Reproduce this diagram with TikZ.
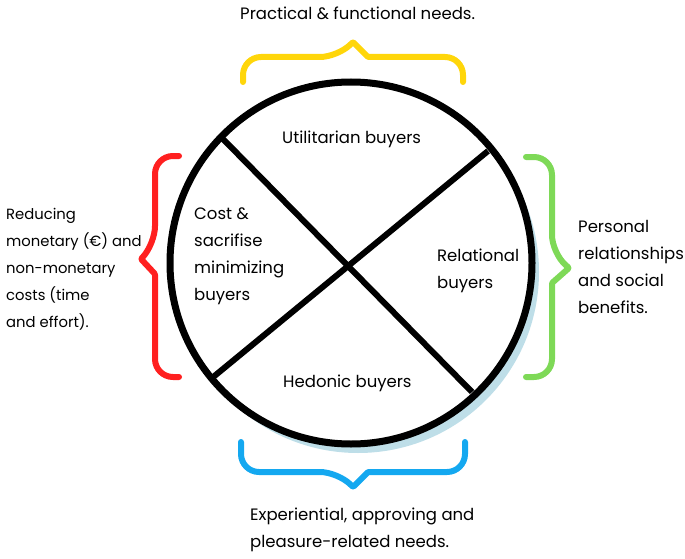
\documentclass[tikz,border=0pt]{standalone}
\usepackage{fontspec}
\setmainfont{Poppins}
\usetikzlibrary{positioning}
\definecolor{braceyellow}{RGB}{255,214,10}
\definecolor{bracered}{RGB}{255,32,32}
\definecolor{bracegreen}{RGB}{126,217,87}
\definecolor{braceblue}{RGB}{20,168,240}
\definecolor{shadowblue}{RGB}{190,222,232}
\tikzset{
  brace/.style={line width=6pt,line cap=round,line join=round},
  label/.style={inner sep=0pt,align=left,font=\fontsize{16.5}{27}\selectfont},
  divider/.style={line width=6pt}
}
\begin{document}
\begin{tikzpicture}[x=1pt,y=-1pt]
  \useasboundingbox (0,0) rectangle (685,559);
  % wheel
  \fill[shadowblue] (358,272) circle (181);
  \draw[line width=7pt,fill=white] (351,263) circle (181);
  \draw[divider] (222,138) -- (472,392);
  \draw[divider] (488,151) -- (212,378);
  % braces
  \draw[brace,braceyellow] (243,82) [rounded corners=18pt] -- (243,57) -- (338,57) [rounded corners=1pt] -- (353,42) -- (368,57) [rounded corners=18pt] -- (463,57) -- (463,82);
  \draw[brace,braceblue] (241,442) [rounded corners=18pt] -- (241,472) -- (338,472) [rounded corners=1pt] -- (353,487) -- (368,472) [rounded corners=18pt] -- (465,472) -- (465,442);
  \draw[brace,bracered] (179,156) [rounded corners=18pt] -- (155,156) -- (155,244) [rounded corners=1pt] -- (141,259) -- (155,274) [rounded corners=18pt] -- (155,377) -- (179,377);
  \draw[brace,bracegreen] (526,157) [rounded corners=18pt] -- (552,157) -- (552,253) [rounded corners=1pt] -- (569,268) -- (552,283) [rounded corners=18pt] -- (552,377) -- (526,377);
  % segment labels
  \node[label,anchor=base west] (util) at (282,143) {Utilitarian buyers};
  \node[label,anchor=base west] (cost) at (194,300) {Cost \&\\sacrifise\\minimizing\\buyers};
  \node[label,anchor=base west] (rel) at (437,288) {Relational\\buyers};
  \node[label,anchor=base west] (hed) at (283,387) {Hedonic buyers};
  % needs
  \node[label,anchor=base west] (practical) at (240,20) {Practical \& functional needs.};
  \node[label,anchor=base west,font=\fontsize{14.8}{27}\selectfont] (reducing) at (6,327) {Reducing\\monetary (€) and\\non-monetary\\costs (time\\and effort).};
  \node[label,anchor=base west] (personal) at (578,313) {Personal\\relationships\\and social\\benefits.};
  \node[label,anchor=base west] (experiential) at (250,547) {Experiential, approving and\\pleasure-related needs.};
\end{tikzpicture}
\end{document}
